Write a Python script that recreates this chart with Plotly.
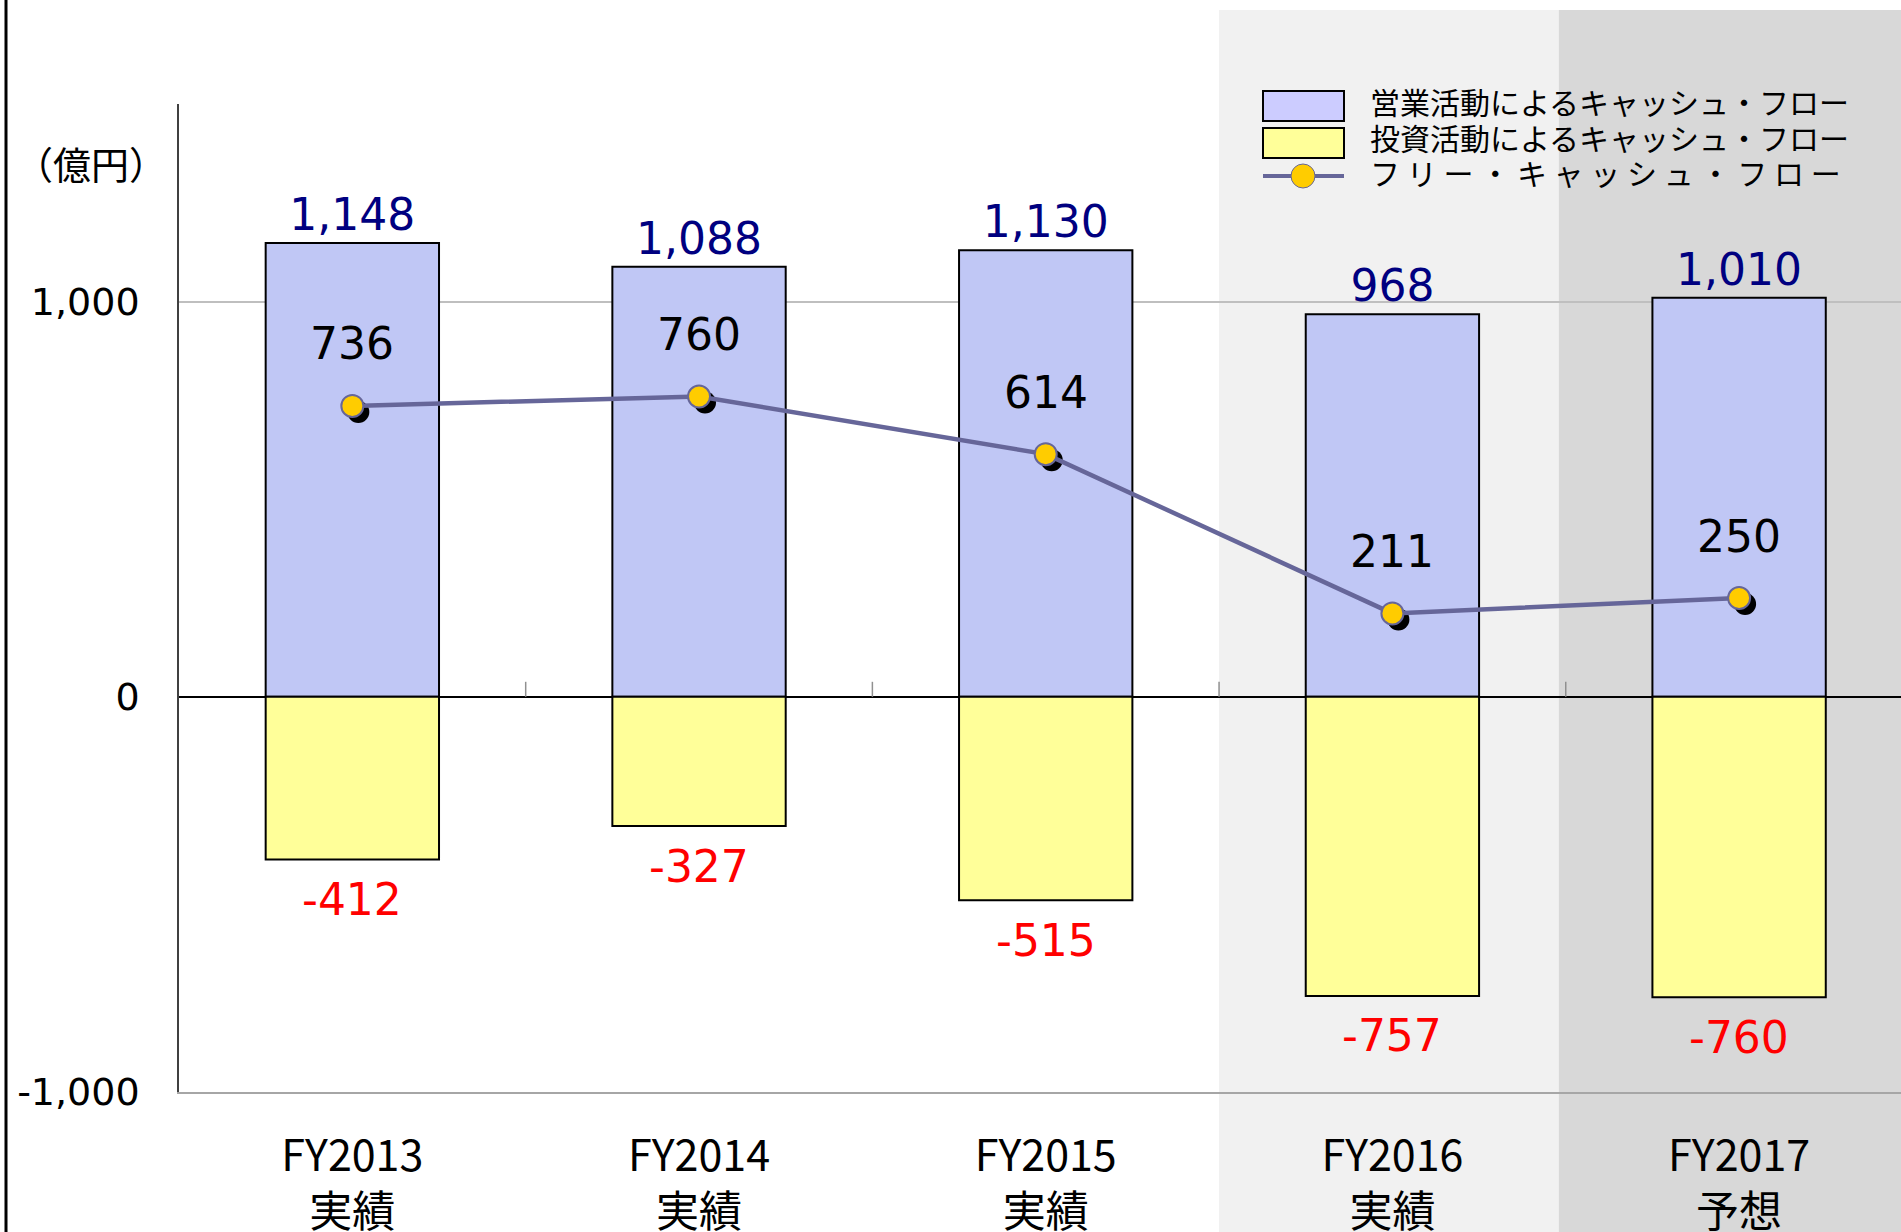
import plotly.graph_objects as go

# data (億円)
years = ["FY2013", "FY2014", "FY2015", "FY2016", "FY2017"]
kinds = ["実績", "実績", "実績", "実績", "予想"]
operating_cf = [1148, 1088, 1130, 968, 1010]
investing_cf = [-412, -327, -515, -757, -760]
free_cf = [736, 760, 614, 211, 250]
ytick_vals = [-1000, 0, 1000]
ytick_text = ["-1,000", "0", "1,000"]
legend_names = ["営業活動によるキャッシュ・フロー",
                "投資活動によるキャッシュ・フロー",
                "フ リ ー ・ キ ャ ッ シ ュ ・ フ ロ ー"]

cats = [f"{y}<br>{k}" for y, k in zip(years, kinds)]

W, H = 1901, 1232
L, R, T, B = 179, 0, 104, 140
PW, PH = W - L - R, H - T - B

def px2x(px):
    return (px - L) / PW

def px2y(py):
    return (H - B - py) / PH

BLUE = "#C0C7F5"
YELLOW = "#FFFF99"
LINE = "#666699"
GOLD = "#FFCC00"
NUM_FONT = "DejaVu Sans"
JP_FONT = "Noto Sans CJK JP"

XR = [-0.5, 4.467]
YR = [-1000, 1500]
# shadow offset in px
sdx, sdy = 6, 6
cat_w = PW / (XR[1] - XR[0])
unit_h = PH / (YR[1] - YR[0])

fig = go.Figure()

fig.add_trace(go.Bar(x=cats, y=operating_cf, width=0.5,
                     marker=dict(color=BLUE, line=dict(color="black", width=2)),
                     text=[f"{v:,}" for v in operating_cf], textposition="outside",
                     textfont=dict(family=NUM_FONT, size=44, color="#000080"),
                     cliponaxis=False, constraintext="none", showlegend=False))
fig.add_trace(go.Bar(x=cats, y=investing_cf, width=0.5,
                     marker=dict(color=YELLOW, line=dict(color="black", width=2)),
                     showlegend=False))

# marker shadow on shifted overlay axes
fig.add_trace(go.Scatter(x=cats, y=free_cf, mode="markers", xaxis="x2", yaxis="y2",
                         marker=dict(size=22, color="black"), showlegend=False,
                         hoverinfo="skip", cliponaxis=False))
fig.add_trace(go.Scatter(x=cats, y=free_cf, mode="lines+markers", xaxis="x3", yaxis="y3",
                         line=dict(color=LINE, width=4.5),
                         marker=dict(size=22, color=GOLD, line=dict(color=LINE, width=2)),
                         showlegend=False, cliponaxis=False))

shapes = []
# shaded backgrounds for FY2016 / FY2017
shapes.append(dict(type="rect", xref="x", yref="paper", x0=2.5, x1=3.48,
                   y0=px2y(H), y1=px2y(10), fillcolor="#F1F1F1", line_width=0, layer="below"))
shapes.append(dict(type="rect", xref="x", yref="paper", x0=3.48, x1=5,
                   y0=px2y(H), y1=px2y(10), fillcolor="#D8D8D8", line_width=0, layer="below"))
# small ticks on the zero line between categories
for i in range(len(cats) - 1):
    shapes.append(dict(type="line", xref="x", yref="y", ysizemode="pixel", yanchor=0,
                       x0=i + 0.5, x1=i + 0.5, y0=0, y1=15,
                       line=dict(color="#909090", width=1.5)))
# left border
shapes.append(dict(type="line", xref="paper", yref="paper", x0=px2x(6), x1=px2x(6),
                   y0=px2y(H), y1=px2y(0), line=dict(color="black", width=3)))
# legend swatches
shapes.append(dict(type="rect", xref="paper", yref="paper", x0=px2x(1263), x1=px2x(1344),
                   y0=px2y(121), y1=px2y(91), fillcolor="#CCCCFF", line=dict(color="black", width=2)))
shapes.append(dict(type="rect", xref="paper", yref="paper", x0=px2x(1263), x1=px2x(1344),
                   y0=px2y(158), y1=px2y(128), fillcolor=YELLOW, line=dict(color="black", width=2)))
shapes.append(dict(type="line", xref="paper", yref="paper", x0=px2x(1263), x1=px2x(1344),
                   y0=px2y(176), y1=px2y(176), line=dict(color=LINE, width=4)))
shapes.append(dict(type="circle", xref="paper", yref="paper", xsizemode="pixel", ysizemode="pixel",
                   xanchor=px2x(1303), yanchor=px2y(176), x0=-12, x1=12, y0=-12, y1=12,
                   fillcolor=GOLD, line=dict(color=LINE, width=1)))

annotations = []
for c, v in zip(cats, free_cf):
    annotations.append(dict(x=c, y=v, xref="x3", yref="y3", text=f"{v:,}", showarrow=False,
                            yshift=62, font=dict(family=NUM_FONT, size=44, color="black")))
for c, v in zip(cats, investing_cf):
    annotations.append(dict(x=c, y=v, xref="x", yref="y", text=f"{v:,}", showarrow=False,
                            yanchor="middle", yshift=-40,
                            font=dict(family=NUM_FONT, size=44, color="#FF0000")))
for name, py in zip(legend_names, [101, 137, 172]):
    annotations.append(dict(x=px2x(1368), y=px2y(py), xref="paper", yref="paper", text=name,
                            showarrow=False, xanchor="left", yanchor="middle",
                            font=dict(family=JP_FONT, size=30, color="black")))
annotations.append(dict(x=px2x(91), y=px2y(162), xref="paper", yref="paper", text="（億円）",
                        showarrow=False, xanchor="center", yanchor="middle",
                        font=dict(family=JP_FONT, size=38, color="black")))

fig.update_layout(
    width=W, height=H,
    margin=dict(l=L, r=R, t=T, b=B, pad=0),
    paper_bgcolor="white", plot_bgcolor="rgba(0,0,0,0)",
    barmode="overlay", showlegend=False,
    shapes=shapes, annotations=annotations,
    xaxis=dict(type="category", categoryarray=cats, range=XR, showgrid=False,
               showline=True, linecolor="#A6A6A6", linewidth=1.5, ticks="",
               ticklabelstandoff=26, automargin=False,
               tickfont=dict(family=JP_FONT, size=43, color="black")),
    yaxis=dict(range=YR, tickvals=ytick_vals, ticktext=ytick_text, showgrid=True,
               gridcolor="#BFBFBF", gridwidth=1.5, zeroline=True, zerolinecolor="black",
               zerolinewidth=1.5, showline=True, linecolor="#404040", linewidth=1.5,
               ticks="", ticklabelstandoff=30, automargin=False,
               tickfont=dict(family=NUM_FONT, size=38, color="black")),
    xaxis2=dict(type="category", categoryarray=cats, overlaying="x", visible=False,
                range=[XR[0] - sdx / cat_w, XR[1] - sdx / cat_w], automargin=False),
    yaxis2=dict(overlaying="y", visible=False, automargin=False,
                range=[YR[0] + sdy / unit_h, YR[1] + sdy / unit_h]),
    xaxis3=dict(type="category", categoryarray=cats, overlaying="x", visible=False,
                range=XR, automargin=False),
    yaxis3=dict(overlaying="y", visible=False, range=YR, automargin=False),
)

fig.write_html("out.html", config={"displayModeBar": False},
               post_script="document.body.style.margin='0';")
